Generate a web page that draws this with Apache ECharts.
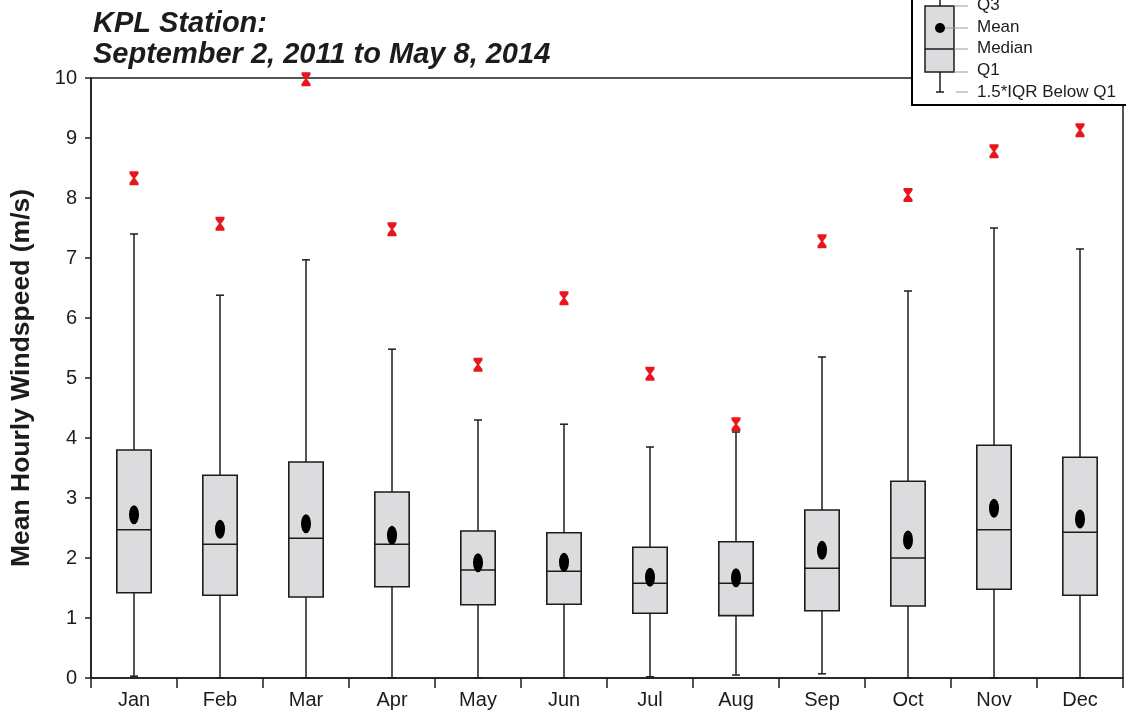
<!DOCTYPE html>
<html>
<head>
<meta charset="utf-8">
<script src="https://cdn.jsdelivr.net/npm/echarts@6/dist/echarts.min.js"></script>
<style>
  html, body { margin: 0; padding: 0; background: #fff; }
  #chart { width: 1126px; height: 715px; }
</style>
</head>
<body>
<div id="chart"></div>
<script>
// Monthly distribution of mean hourly windspeed (m/s)
const months = ['Jan', 'Feb', 'Mar', 'Apr', 'May', 'Jun', 'Jul', 'Aug', 'Sep', 'Oct', 'Nov', 'Dec'];
const whiskerLow  = [0.03, 0.00, 0.00, 0.00, 0.00, 0.00, 0.02, 0.05, 0.07, 0.00, 0.00, 0.00];
const q1          = [1.42, 1.38, 1.35, 1.52, 1.22, 1.23, 1.08, 1.04, 1.12, 1.20, 1.48, 1.38];
const medians     = [2.47, 2.23, 2.33, 2.23, 1.80, 1.78, 1.58, 1.58, 1.83, 2.00, 2.47, 2.43];
const q3          = [3.80, 3.38, 3.60, 3.10, 2.45, 2.42, 2.18, 2.27, 2.80, 3.28, 3.88, 3.68];
const whiskerHigh = [7.40, 6.38, 6.97, 5.48, 4.30, 4.23, 3.85, 4.10, 5.35, 6.45, 7.50, 7.15];
const means       = [2.72, 2.48, 2.57, 2.38, 1.92, 1.93, 1.68, 1.67, 2.13, 2.30, 2.83, 2.65];
const maxima      = [8.33, 7.57, 9.98, 7.48, 5.22, 6.33, 5.07, 4.23, 7.28, 8.05, 8.78, 9.13];
const yTicks = [0, 1, 2, 3, 4, 5, 6, 7, 8, 9, 10];

const INK = '#1e1b1c';
const BOX_FILL = '#dcdcde';
const RED = '#e8161d';
const FONT = 'Liberation Sans, Arial, sans-serif';

const boxData = months.map((m, i) => [i, whiskerLow[i], q1[i], medians[i], q3[i], whiskerHigh[i]]);

function renderBox(params, api) {
  const idx = api.value(0);
  const x = api.coord([idx, 0])[0];
  const yLow = api.coord([idx, api.value(1)])[1];
  const yQ1 = api.coord([idx, api.value(2)])[1];
  const yMed = api.coord([idx, api.value(3)])[1];
  const yQ3 = api.coord([idx, api.value(4)])[1];
  const yHigh = api.coord([idx, api.value(5)])[1];
  const w = api.size([1, 0])[0] * 0.4;
  const cap = 4;
  const line = { stroke: INK, lineWidth: 1.5 };
  return {
    type: 'group',
    children: [
      { type: 'line', shape: { x1: x, y1: yHigh, x2: x, y2: yQ3 }, style: line },
      { type: 'line', shape: { x1: x - cap, y1: yHigh, x2: x + cap, y2: yHigh }, style: line },
      { type: 'line', shape: { x1: x, y1: yQ1, x2: x, y2: yLow }, style: line },
      { type: 'line', shape: { x1: x - cap, y1: yLow, x2: x + cap, y2: yLow }, style: line },
      { type: 'rect', shape: { x: x - w / 2, y: yQ3, width: w, height: yQ1 - yQ3 },
        style: { fill: BOX_FILL, stroke: INK, lineWidth: 1.6 } },
      { type: 'line', shape: { x1: x - w / 2, y1: yMed, x2: x + w / 2, y2: yMed }, style: line }
    ]
  };
}

const chart = echarts.init(document.getElementById('chart'), null, { renderer: 'canvas' });

// legend key drawn in the top-right corner
const lx = 940;
const legendText = (y, text) => ({
  type: 'text', x: 977, y: y,
  style: { text: text, fill: INK, font: '17px ' + FONT, verticalAlign: 'middle', align: 'left' }
});
const grey = (x1, y, x2) => ({
  type: 'line', shape: { x1: x1, y1: y, x2: x2, y2: y }, style: { stroke: '#9a9a9a', lineWidth: 1 }
});

const option = {
  backgroundColor: '#fff',
  animation: false,
  title: {
    text: 'KPL Station:\nSeptember 2, 2011 to May 8, 2014',
    left: 88, top: 3,
    textStyle: { fontFamily: FONT, fontSize: 29, fontWeight: 'bold', fontStyle: 'italic', color: INK, lineHeight: 31 }
  },
  grid: {
    left: 90, right: 3, top: 78, bottom: 37,
    show: true, borderColor: INK, borderWidth: 1.5, backgroundColor: 'transparent'
  },
  xAxis: {
    type: 'category',
    data: months,
    boundaryGap: true,
    axisLine: { lineStyle: { color: INK, width: 1.5 } },
    axisTick: { show: true, length: 10, lineStyle: { color: INK, width: 1.5 } },
    axisLabel: { fontFamily: FONT, fontSize: 20, color: INK, margin: 12 },
    splitLine: { show: false }
  },
  yAxis: {
    type: 'value',
    min: yTicks[0], max: yTicks[yTicks.length - 1], interval: 1,
    name: 'Mean Hourly Windspeed (m/s)',
    nameLocation: 'middle',
    nameGap: 56,
    nameTextStyle: { fontFamily: FONT, fontSize: 26.5, fontWeight: 'bold', color: INK },
    axisLine: { show: true, lineStyle: { color: INK, width: 1.5 } },
    axisTick: { show: true, length: 6, lineStyle: { color: INK, width: 1.5 } },
    axisLabel: { fontFamily: FONT, fontSize: 20, color: INK, margin: 14 },
    splitLine: { show: false }
  },
  series: [
    {
      name: 'Box',
      type: 'custom',
      renderItem: renderBox,
      encode: { x: 0, y: [1, 2, 3, 4, 5] },
      data: boxData,
      z: 2
    },
    {
      name: 'Mean',
      type: 'scatter',
      data: means,
      symbol: 'circle',
      symbolSize: [10, 19],
      itemStyle: { color: '#000', opacity: 1 },
      z: 3
    },
    {
      name: 'Maximum',
      type: 'scatter',
      data: maxima,
      symbol: 'path://M0,0 L10,0 L10,2.5 L6.2,7 L10,11.5 L10,14 L0,14 L0,11.5 L3.8,7 L0,2.5 Z',
      symbolSize: [9, 14],
      itemStyle: { color: RED, opacity: 1 },
      z: 3
    }
  ],
  graphic: [
    {
      type: 'group', z: 100,
      children: [
        { type: 'rect', shape: { x: 912, y: -10, width: 240, height: 115 },
          style: { fill: '#fff', stroke: '#000', lineWidth: 2 } },
        { type: 'line', shape: { x1: lx, y1: -2, x2: lx, y2: 6 }, style: { stroke: INK, lineWidth: 1.5 } },
        { type: 'rect', shape: { x: 925, y: 6, width: 29, height: 66 },
          style: { fill: BOX_FILL, stroke: INK, lineWidth: 1.5 } },
        { type: 'line', shape: { x1: 925, y1: 49, x2: 954, y2: 49 }, style: { stroke: INK, lineWidth: 1.5 } },
        { type: 'line', shape: { x1: lx, y1: 72, x2: lx, y2: 92 }, style: { stroke: INK, lineWidth: 1.5 } },
        { type: 'line', shape: { x1: lx - 4, y1: 92, x2: lx + 4, y2: 92 }, style: { stroke: INK, lineWidth: 1.5 } },
        grey(954, 6, 968),
        grey(945, 28, 968),
        grey(954, 49, 968),
        grey(954, 72, 968),
        grey(956, 92, 968),
        { type: 'circle', shape: { cx: lx, cy: 28, r: 5 }, style: { fill: '#000' } },
        legendText(5, 'Q3'),
        legendText(27, 'Mean'),
        legendText(48, 'Median'),
        legendText(70, 'Q1'),
        legendText(92, '1.5*IQR Below Q1')
      ]
    }
  ]
};

chart.setOption(option);
</script>
</body>
</html>
